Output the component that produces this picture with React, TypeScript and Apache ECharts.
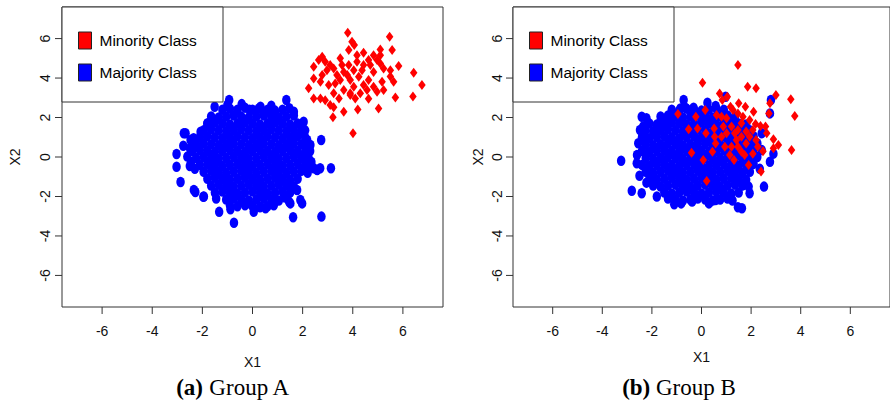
import { useEffect, useRef } from 'react';
import * as echarts from 'echarts';

const xTicks = [-6, -4, -2, 0, 2, 4, 6];
const yTicks = [-6, -4, -2, 0, 2, 4, 6];
const axisMin = -7.6;
const axisMax = 7.6;
const legendNames = ['Minority Class', 'Majority Class'];
const panelCaptions = ['(a)', '(b)'];
const panelNames = ['Group A', 'Group B'];

const majorityCoreA: number[][] = [
  [-1.2, 2.4], [-0.9, 2.45], [-0.6, 2.4], [-0.3, 2.5], [0, 2.4], [0.3, 2.45], [0.6, 2.4], [0.9, 2.35], [1.2, 2.4],
  [-1.65, 2.05], [-1.35, 2.0], [-1.05, 2.05], [-0.75, 2.1], [-0.45, 2.05], [-0.15, 2.0], [0.15, 2.05], [0.45, 2.1], [0.75, 2.05], [1.05, 2.0], [1.35, 2.05], [1.65, 2.1],
  [-1.8, 1.7], [-1.5, 1.75], [-1.2, 1.7], [-0.9, 1.65], [-0.6, 1.7], [-0.3, 1.75], [0, 1.7], [0.3, 1.65], [0.6, 1.7], [0.9, 1.75], [1.2, 1.7], [1.5, 1.65], [1.8, 1.7],
  [-1.95, 1.35], [-1.65, 1.4], [-1.35, 1.35], [-1.05, 1.3], [-0.75, 1.35], [-0.45, 1.4], [-0.15, 1.35], [0.15, 1.3], [0.45, 1.35], [0.75, 1.4], [1.05, 1.35], [1.35, 1.3], [1.65, 1.35], [1.95, 1.4],
  [-2.1, 1.0], [-1.8, 1.05], [-1.5, 1.0], [-1.2, 0.95], [-0.9, 1.0], [-0.6, 1.05], [-0.3, 1.0], [0, 0.95], [0.3, 1.0], [0.6, 1.05], [0.9, 1.0], [1.2, 0.95], [1.5, 1.0], [1.8, 1.05], [2.1, 1.0],
  [-2.25, 0.65], [-1.95, 0.7], [-1.65, 0.65], [-1.35, 0.6], [-1.05, 0.65], [-0.75, 0.7], [-0.45, 0.65], [-0.15, 0.6], [0.15, 0.65], [0.45, 0.7], [0.75, 0.65], [1.05, 0.6], [1.35, 0.65], [1.65, 0.7], [1.95, 0.65], [2.2, 0.6],
  [-2.4, 0.3], [-2.1, 0.35], [-1.8, 0.3], [-1.5, 0.25], [-1.2, 0.3], [-0.9, 0.35], [-0.6, 0.3], [-0.3, 0.25], [0, 0.3], [0.3, 0.35], [0.6, 0.3], [0.9, 0.25], [1.2, 0.3], [1.5, 0.35], [1.8, 0.3], [2.1, 0.25],
  [-2.25, -0.05], [-1.95, 0], [-1.65, -0.05], [-1.35, -0.1], [-1.05, -0.05], [-0.75, 0], [-0.45, -0.05], [-0.15, -0.1], [0.15, -0.05], [0.45, 0], [0.75, -0.05], [1.05, -0.1], [1.35, -0.05], [1.65, 0], [1.95, -0.05], [2.25, -0.1],
  [-2.1, -0.4], [-1.8, -0.35], [-1.5, -0.4], [-1.2, -0.45], [-0.9, -0.4], [-0.6, -0.35], [-0.3, -0.4], [0, -0.45], [0.3, -0.4], [0.6, -0.35], [0.9, -0.4], [1.2, -0.45], [1.5, -0.4], [1.8, -0.35], [2.1, -0.4],
  [-1.95, -0.75], [-1.65, -0.7], [-1.35, -0.75], [-1.05, -0.8], [-0.75, -0.75], [-0.45, -0.7], [-0.15, -0.75], [0.15, -0.8], [0.45, -0.75], [0.75, -0.7], [1.05, -0.75], [1.35, -0.8], [1.65, -0.75], [1.95, -0.7],
  [-1.8, -1.1], [-1.5, -1.05], [-1.2, -1.1], [-0.9, -1.15], [-0.6, -1.1], [-0.3, -1.05], [0, -1.1], [0.3, -1.15], [0.6, -1.1], [0.9, -1.05], [1.2, -1.1], [1.5, -1.15], [1.8, -1.1],
  [-1.65, -1.45], [-1.35, -1.4], [-1.05, -1.45], [-0.75, -1.5], [-0.45, -1.45], [-0.15, -1.4], [0.15, -1.45], [0.45, -1.5], [0.75, -1.45], [1.05, -1.4], [1.35, -1.45], [1.65, -1.5],
  [-1.5, -1.8], [-1.2, -1.75], [-0.9, -1.8], [-0.6, -1.85], [-0.3, -1.8], [0, -1.75], [0.3, -1.8], [0.6, -1.85], [0.9, -1.8], [1.2, -1.75], [1.5, -1.8],
  [-1.05, -2.15], [-0.75, -2.1], [-0.45, -2.15], [-0.15, -2.2], [0.15, -2.15], [0.45, -2.1], [0.75, -2.15], [1.05, -2.2],
  [-0.6, -2.5], [-0.3, -2.45], [0, -2.5], [0.3, -2.55], [0.6, -2.5],
];
const majorityOuterA: number[][] = [
  [-3.03, 0.15], [-3.03, -0.49], [-2.87, -1.27], [-2.74, 1.2], [-2.76, 0.57], [-2.6, 0.02], [-2.5, -0.46],
  [-2.28, -1.77], [-1.96, -2.01], [-2.07, 1.28], [-1.8, 1.7], [-1.51, 2.55], [-0.93, 2.89], [-0.43, 2.68],
  [-1.33, -2.78], [-0.74, -3.33], [-0.88, -2.65], [0.05, -2.78], [0.52, -2.6], [1.62, -3.05], [2.75, -3.02],
  [1.98, -2.35], [1.46, -2.26], [0.92, -2.19], [1.78, -1.67], [3.13, -0.57], [2.7, -0.57], [2.44, -0.57],
  [2.15, -0.57], [2.74, 0.86], [2.31, 0.61], [2.04, 1.79], [1.35, 2.89], [1.47, 2.47], [0.25, 2.46],
  [-0.12, 2.4], [2.04, 1.28],
  [-1.0, 2.65], [0.75, 2.6], [0.32, 2.55], [-2.35, 0.95], [-2.5, 0.45], [-2.45, -0.25], [-2.3, -0.6],
  [-2.67, 1.2], [-2.47, 0.86], [-2.34, -1.67], [-1.94, -2.0], [2.3, 0.3], [2.35, -0.25], [2.2, -0.8],
  [2.1, 1.35], [2.18, 0.86], [1.65, 2.29], [-1.45, -2.1], [1.3, -2.05], [-0.9, -2.45], [0.85, -2.45],
  [1.91, -2.18], [1.51, -2.35], [0.32, -2.51], [-0.21, -2.35], [2.58, -0.66],
];
const minorityA: number[][] = [
  [3.8, 6.3], [5.47, 6.09], [3.97, 5.84], [4.06, 5.67], [4.43, 5.28], [5.1, 5.45], [5.57, 5.42], [4.83, 5.16],
  [4.17, 5.16], [3.84, 5.42], [3.5, 5.0], [2.78, 5.08], [2.64, 4.91], [2.9, 4.83], [3.1, 4.66], [5.1, 5.16],
  [4.63, 4.91], [4.43, 4.66], [5.1, 4.74], [5.83, 4.61], [5.5, 4.4], [6.43, 4.27], [6.76, 3.65], [6.4, 3.06],
  [5.7, 3.02], [5.63, 3.81], [5.5, 4.08], [5.17, 3.81], [5.03, 2.46], [4.63, 2.95], [4.2, 2.41], [4.01, 1.2],
  [3.64, 2.29], [3.21, 2.01], [3.24, 2.52], [2.71, 2.97], [2.44, 2.97], [2.24, 3.48], [2.44, 3.98], [2.44, 4.57],
  [2.71, 3.81], [3.04, 3.65], [3.24, 3.23], [3.45, 2.97], [3.5, 3.9], [3.78, 4.15], [3.9, 3.9], [4.04, 4.4],
  [3.64, 4.31], [4.24, 4.07], [4.43, 3.65], [4.63, 3.9], [4.83, 3.56], [4.57, 3.4], [4.3, 3.23], [3.9, 3.23],
  [3.64, 3.4], [4.04, 3.56], [4.83, 4.31], [4.37, 4.4], [3.37, 4.15], [3.24, 4.49], [2.97, 4.4], [3.3, 3.73],
  [4.97, 3.31], [5.23, 3.4], [4.7, 4.66], [4.97, 4.91], [3.84, 4.66], [3.57, 4.66], [4.17, 4.83], [5.23, 4.49],
  [2.9, 2.88], [3.1, 2.63], [2.78, 4.15], [4.1, 2.97], [3.9, 3.14],
];

const majorityCoreB: number[][] = [
  [-1.2, 2.4], [-0.9, 2.35], [-0.6, 2.45], [-0.3, 2.4], [0, 2.35], [0.3, 2.4], [0.6, 2.45], [0.9, 2.4],
  [-1.65, 2.05], [-1.35, 2.1], [-1.05, 2.05], [-0.75, 2.0], [-0.45, 2.05], [-0.15, 2.1], [0.15, 2.05], [0.45, 2.0], [0.75, 2.05], [1.05, 2.1], [1.35, 2.05],
  [-2.1, 1.7], [-1.8, 1.65], [-1.5, 1.7], [-1.2, 1.75], [-0.9, 1.7], [-0.6, 1.65], [-0.3, 1.7], [0, 1.75], [0.3, 1.7], [0.6, 1.65], [0.9, 1.7], [1.2, 1.75], [1.5, 1.7], [1.8, 1.65],
  [-2.25, 1.35], [-1.95, 1.3], [-1.65, 1.35], [-1.35, 1.4], [-1.05, 1.35], [-0.75, 1.3], [-0.45, 1.35], [-0.15, 1.4], [0.15, 1.35], [0.45, 1.3], [0.75, 1.35], [1.05, 1.4], [1.35, 1.35], [1.65, 1.3], [1.95, 1.35],
  [-2.4, 1.0], [-2.1, 0.95], [-1.8, 1.0], [-1.5, 1.05], [-1.2, 1.0], [-0.9, 0.95], [-0.6, 1.0], [-0.3, 1.05], [0, 1.0], [0.3, 0.95], [0.6, 1.0], [0.9, 1.05], [1.2, 1.0], [1.5, 0.95], [1.8, 1.0], [2.1, 1.05],
  [-2.25, 0.65], [-1.95, 0.6], [-1.65, 0.65], [-1.35, 0.7], [-1.05, 0.65], [-0.75, 0.6], [-0.45, 0.65], [-0.15, 0.7], [0.15, 0.65], [0.45, 0.6], [0.75, 0.65], [1.05, 0.7], [1.35, 0.65], [1.65, 0.6], [1.95, 0.65], [2.25, 0.7],
  [-2.4, 0.3], [-2.1, 0.25], [-1.8, 0.3], [-1.5, 0.35], [-1.2, 0.3], [-0.9, 0.25], [-0.6, 0.3], [-0.3, 0.35], [0, 0.3], [0.3, 0.25], [0.6, 0.3], [0.9, 0.35], [1.2, 0.3], [1.5, 0.25], [1.8, 0.3], [2.1, 0.35],
  [-2.25, -0.05], [-1.95, -0.1], [-1.65, -0.05], [-1.35, 0], [-1.05, -0.05], [-0.75, -0.1], [-0.45, -0.05], [-0.15, 0], [0.15, -0.05], [0.45, -0.1], [0.75, -0.05], [1.05, 0], [1.35, -0.05], [1.65, -0.1], [1.95, -0.05], [2.25, 0],
  [-2.4, -0.4], [-2.1, -0.45], [-1.8, -0.4], [-1.5, -0.35], [-1.2, -0.4], [-0.9, -0.45], [-0.6, -0.4], [-0.3, -0.35], [0, -0.4], [0.3, -0.45], [0.6, -0.4], [0.9, -0.35], [1.2, -0.4], [1.5, -0.45], [1.8, -0.4], [2.1, -0.35],
  [-2.25, -0.75], [-1.95, -0.8], [-1.65, -0.75], [-1.35, -0.7], [-1.05, -0.75], [-0.75, -0.8], [-0.45, -0.75], [-0.15, -0.7], [0.15, -0.75], [0.45, -0.8], [0.75, -0.75], [1.05, -0.7], [1.35, -0.75], [1.65, -0.8], [1.95, -0.75],
  [-2.1, -1.1], [-1.8, -1.15], [-1.5, -1.1], [-1.2, -1.05], [-0.9, -1.1], [-0.6, -1.15], [-0.3, -1.1], [0, -1.05], [0.3, -1.1], [0.6, -1.15], [0.9, -1.1], [1.2, -1.05], [1.5, -1.1], [1.8, -1.15],
  [-1.95, -1.45], [-1.65, -1.5], [-1.35, -1.45], [-1.05, -1.4], [-0.75, -1.45], [-0.45, -1.5], [-0.15, -1.45], [0.15, -1.4], [0.45, -1.45], [0.75, -1.5], [1.05, -1.45], [1.35, -1.4], [1.65, -1.45],
  [-1.5, -1.8], [-1.2, -1.85], [-0.9, -1.8], [-0.6, -1.75], [-0.3, -1.8], [0, -1.85], [0.3, -1.8], [0.6, -1.75], [0.9, -1.8], [1.2, -1.85], [1.5, -1.8],
  [-1.35, -2.1], [-1.05, -2.15], [-0.75, -2.2], [-0.45, -2.15], [-0.15, -2.1], [0.15, -2.15], [0.45, -2.2], [0.75, -2.15], [1.05, -2.1],
];
const majorityOuterB: number[][] = [
  [-3.24, -0.19], [-2.81, -1.71], [-2.41, -1.84], [-2.22, -1.3], [-2.61, -0.32], [-2.41, 2.04], [-2.22, 1.96],
  [-2.48, 1.37], [-2.35, 1.03], [-0.82, -2.35], [-0.38, -2.26], [0.57, -2.18], [1.47, -2.55], [1.63, -2.6],
  [1.94, -1.84], [2.52, -1.5], [2.76, -0.24], [2.9, 0.17], [2.8, 2.89], [2.76, 2.21], [2.43, 1.2], [2.43, 0.35],
  [-0.72, 2.89], [0.24, 2.75], [-0.85, 2.46], [0.97, 3.05], [0.57, 2.58], [-0.65, 2.5], [-0.32, 2.5],
  [-1.35, 2.04], [-1.68, 1.71],
  [-2.55, 0.7], [-2.6, 0.1], [-2.5, -0.95], [-2.35, 1.55], [1.9, -1.5], [2.35, -0.6], [-1.8, -2.0],
  [-1.1, -2.4], [0.3, -2.35], [1.25, -2.2],
];
const minorityB: number[][] = [
  [1.47, 4.66], [0.04, 3.76], [0.73, 3.22], [1.86, 3.56], [2.2, 3.48], [3.0, 3.14], [3.6, 2.92], [3.76, 2.08],
  [3.63, 0.35], [3.1, 0.61], [2.76, 2.72], [2.72, 2.21], [2.9, 0.9], [2.9, 0.44], [2.4, -0.74], [1.9, -0.41],
  [2.48, 0.29], [2.63, 1.2], [2.58, 1.54], [2.38, 1.57], [2.18, 1.67], [2.1, 2.29], [1.77, 2.55], [1.5, 2.72],
  [1.17, 2.55], [0.84, 2.89], [1.04, 3.05], [-0.95, 2.18], [-0.52, 1.4], [-0.16, 1.45], [-0.23, 2.04],
  [0.15, 2.38], [0.18, 1.2], [0.51, 1.45], [0.53, 1.03], [0.57, 0.69], [0.44, 0.27], [-0.4, 0.22], [0.07, -0.15],
  [0.21, -1.22], [0.61, 2.13], [1.01, 1.96], [1.01, 1.2], [1.21, 1.54], [1.34, 1.2], [1.47, 1.37], [1.61, 1.03],
  [1.41, 0.86], [1.21, 0.52], [1.14, 0.1], [1.31, -0.15], [1.61, 0.27], [1.8, 0.69], [1.94, 1.03], [2.07, 1.37],
  [1.94, 1.88], [1.67, 2.04], [1.47, 2.21], [1.27, 2.38], [1.61, 1.71], [1.8, 1.29], [2.2, 0.86], [2.27, 0.52],
  [2.07, 0.17], [0.81, 2.04], [0.88, 1.54], [0.81, 1.03], [0.94, 0.52], [1.47, 0.52], [1.74, 0.1],
];

const majorityA = majorityCoreA.concat(majorityOuterA);
const majorityB = majorityCoreB.concat(majorityOuterB);

const FONT = "'Liberation Sans', Arial, Helvetica, sans-serif";
const SERIF = "'Liberation Serif', 'DejaVu Serif', serif";
const BLUE = '#0000ff';
const RED = '#ff0000';
const TICK = '#333';
const ELLIPSE = 'path://M0,-1A1,1 0 1,1 0,1A1,1 0 1,1 0,-1Z';

function makeXAxis(gridIndex: number, nameGap: number) {
  return {
    type: 'value', gridIndex, min: axisMin, max: axisMax, position: 'bottom',
    axisLine: { show: false, onZero: false },
    splitLine: { show: false },
    axisTick: { show: false },
    axisLabel: { customValues: xTicks, margin: 17, fontSize: 14, fontFamily: FONT, color: '#111' },
    name: 'X1', nameLocation: 'middle', nameGap,
    nameTextStyle: { fontSize: 14, fontFamily: FONT, color: '#111' },
  };
}
function makeYAxis(gridIndex: number, margin: number, nameGap: number) {
  return {
    type: 'value', gridIndex, min: axisMin, max: axisMax, position: 'left',
    axisLine: { show: false, onZero: false },
    splitLine: { show: false },
    axisTick: { show: false },
    axisLabel: { customValues: yTicks, rotate: 90, margin, fontSize: 14, fontFamily: FONT, color: '#111' },
    name: 'X2', nameLocation: 'middle', nameGap, nameRotate: 90,
    nameTextStyle: { fontSize: 14, fontFamily: FONT, color: '#111' },
  };
}

function makeLegend(left: number) {
  return {
    orient: 'vertical', left, top: 31.5, padding: 0, itemGap: 14, itemWidth: 13, itemHeight: 17,
    selectedMode: false, icon: 'rect',
    textStyle: { fontFamily: FONT, fontSize: 15.5, color: '#000', padding: [0, 0, 0, 3] },
    data: legendNames.map((n, i) => ({
      name: n, icon: 'rect',
      itemStyle: { color: i === 0 ? RED : BLUE, borderColor: '#222', borderWidth: 1 },
    })),
  };
}

function scatter(name: string, idx: number, data: number[][], isMinority: boolean) {
  return {
    type: 'scatter', name, xAxisIndex: idx, yAxisIndex: idx, data,
    symbol: isMinority ? 'diamond' : ELLIPSE,
    symbolSize: isMinority ? [7.5, 10] : [8.5, 10.5],
    itemStyle: { color: isMinority ? RED : BLUE, opacity: 1 },
    emphasis: { disabled: true },
    z: isMinority ? 3 : 2,
  };
}

// R-style outward tick marks, positioned through each grid's own scales
function tickSeries(idx: number, horizontalAxis: boolean) {
  const data = horizontalAxis ? xTicks.map((v) => [v, axisMin]) : yTicks.map((v) => [axisMin, v]);
  return {
    type: 'scatter', name: horizontalAxis ? 'x ticks' : 'y ticks',
    xAxisIndex: idx, yAxisIndex: idx, data,
    symbol: 'rect',
    symbolSize: horizontalAxis ? [1, 7] : [7, 1],
    symbolOffset: horizontalAxis ? [0, 3.5] : [-3.5, 0],
    clip: false, silent: true,
    itemStyle: { color: TICK, opacity: 1 },
    emphasis: { disabled: true },
    tooltip: { show: false },
    z: 5,
  };
}

function caption(cx: number, i: number) {
  return {
    type: 'text', x: cx, y: 387, z: 5,
    style: {
      text: `{b|${panelCaptions[i]}} ${panelNames[i]}`,
      align: 'center', verticalAlign: 'middle',
      fontFamily: SERIF, fontSize: 23, fill: '#000',
      rich: { b: { fontFamily: SERIF, fontSize: 23, fontWeight: 'bold', fill: '#000' } },
    },
  };
}

export default function App() {
  const ref = useRef<HTMLDivElement>(null);
  useEffect(() => {
    if (!ref.current) return;
    const chart = echarts.init(ref.current, undefined, { renderer: 'svg' });
    chart.setOption({
      animation: false,
      grid: [
        { left: 62, top: 7, width: 381, height: 300, show: true, borderColor: '#333', borderWidth: 1 },
        { left: 513, top: 7, width: 381, height: 300, show: true, borderColor: '#333', borderWidth: 1 },
      ],
      xAxis: [makeXAxis(0, 48), makeXAxis(1, 43)],
      yAxis: [makeYAxis(0, 10, 40), makeYAxis(1, 9, 28)],
      legend: [makeLegend(78), makeLegend(529)],
      series: [
        scatter(legendNames[1], 0, majorityA, false),
        scatter(legendNames[0], 0, minorityA, true),
        scatter(legendNames[1], 1, majorityB, false),
        scatter(legendNames[0], 1, minorityB, true),
        tickSeries(0, true),
        tickSeries(0, false),
        tickSeries(1, true),
        tickSeries(1, false),
      ],
      graphic: [
        { type: 'rect', z: 3, shape: { x: 62, y: 7, width: 161, height: 95 }, style: { fill: '#fff', stroke: '#333', lineWidth: 1 } },
        { type: 'rect', z: 3, shape: { x: 513, y: 7, width: 161, height: 95 }, style: { fill: '#fff', stroke: '#333', lineWidth: 1 } },
        caption(233, 0),
        caption(679, 1),
      ],
    });
    return () => chart.dispose();
  }, []);
  return (
    <div
      ref={ref}
      style={{ position: 'fixed', left: 0, top: 0, width: 890, height: 400, background: '#fff' }}
    />
  );
}
